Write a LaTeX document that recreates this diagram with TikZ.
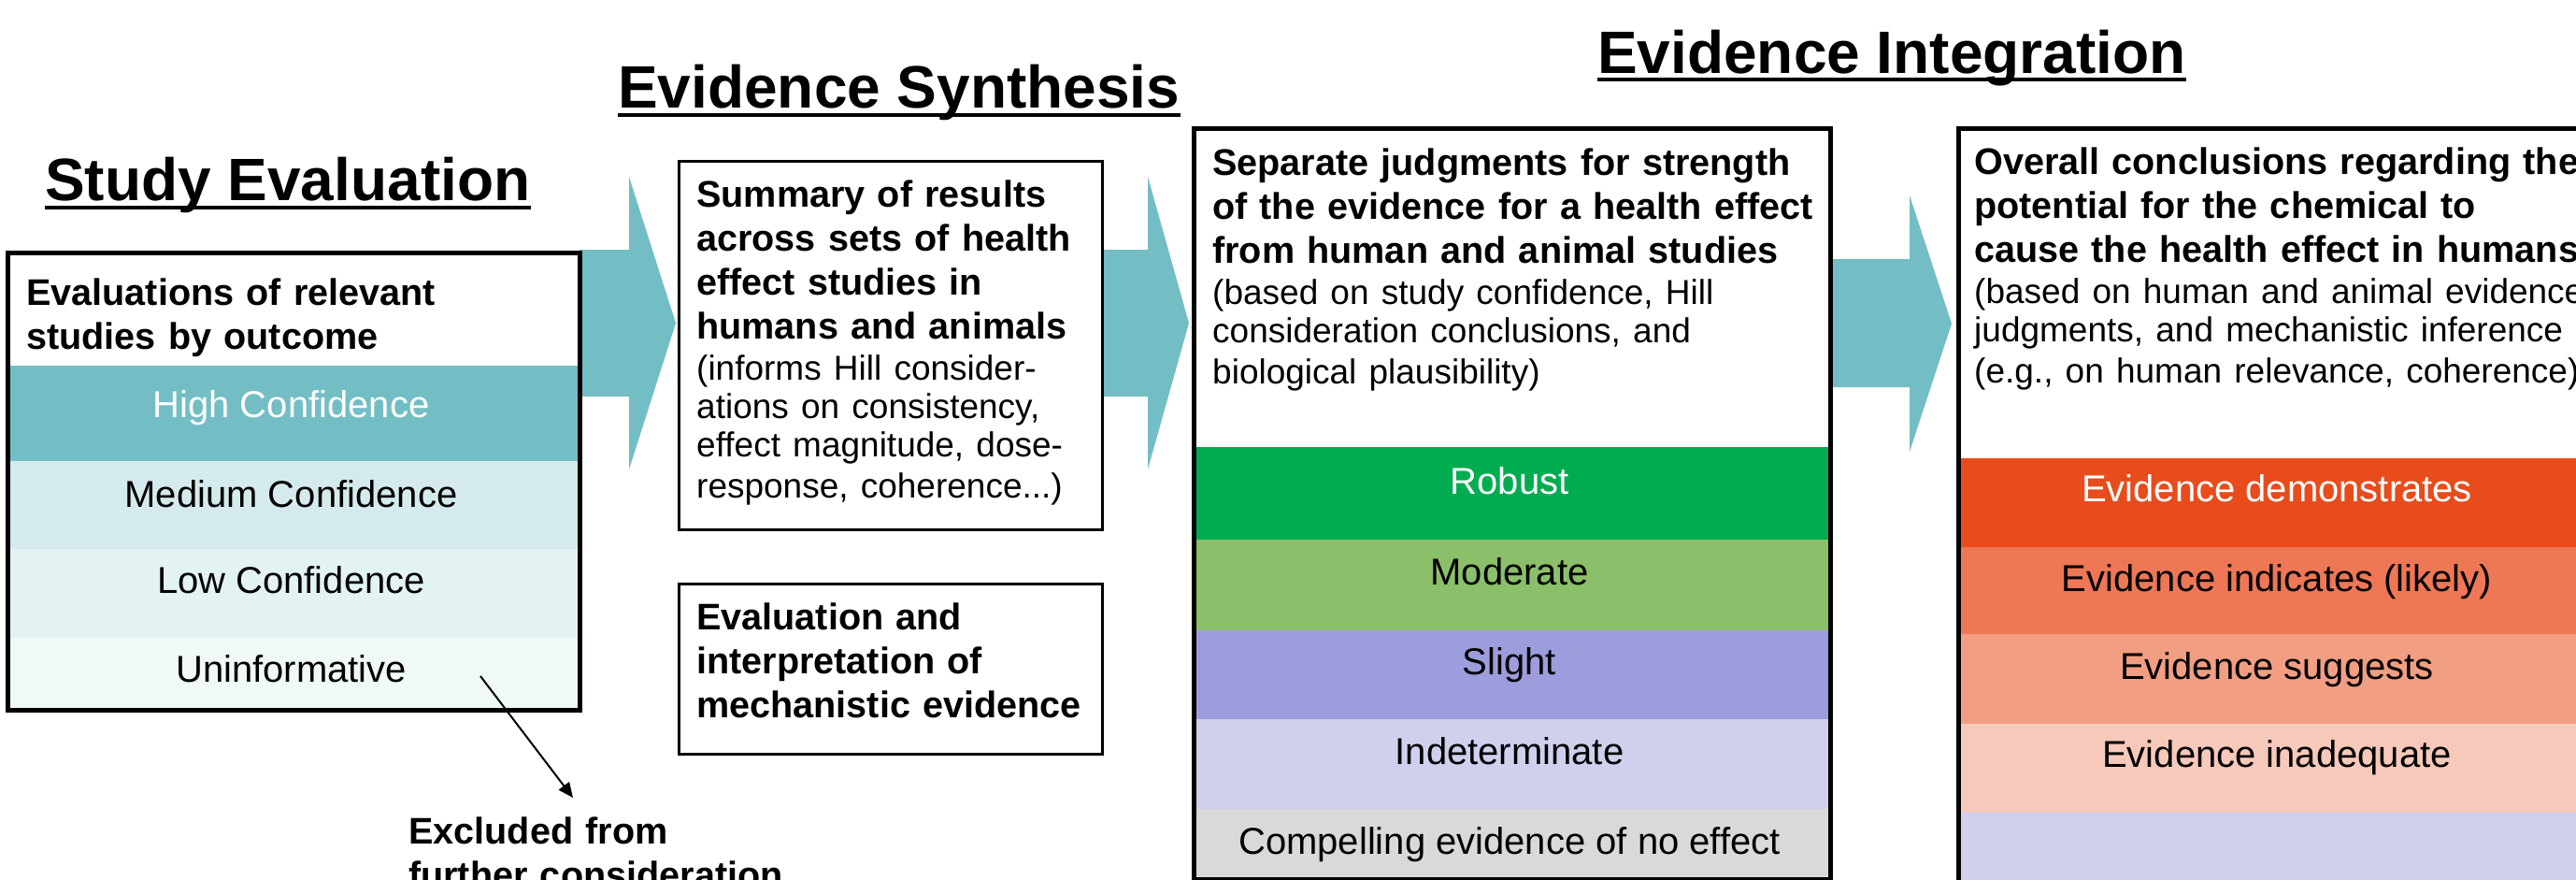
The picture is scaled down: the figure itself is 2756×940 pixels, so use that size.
\documentclass[tikz,border=0pt]{standalone}
\usepackage{fontspec}
\setmainfont{Liberation Sans}
\usetikzlibrary{arrows.meta}
\definecolor{tealA}{HTML}{73BEC4}
\definecolor{medC}{HTML}{D5EAEC}
\definecolor{lowC}{HTML}{E3F2F3}
\definecolor{uninC}{HTML}{F0F8F8}
\definecolor{robustC}{HTML}{00AC50}
\definecolor{moderateC}{HTML}{8CBF6A}
\definecolor{slightC}{HTML}{9D9CDC}
\definecolor{indetC}{HTML}{CFCFEE}
\definecolor{compelC}{HTML}{D9D9D9}
\definecolor{demoC}{HTML}{E84C1C}
\definecolor{indicC}{HTML}{EE7756}
\definecolor{suggC}{HTML}{F29E82}
\definecolor{inadeqC}{HTML}{F7C9BA}
\definecolor{lavC}{HTML}{D0D0EE}
\newcommand{\smtxt}{\fontsize{37}{44}\selectfont}
\tikzset{
  thickbox/.style={draw=black, line width=5pt, inner sep=0pt, anchor=north west},
  thinbox/.style={draw=black, line width=2.5pt, inner sep=0pt, anchor=north west},
  titletext/.style={font=\fontsize{64}{72}\selectfont\bfseries, anchor=base west, inner sep=0pt},
  hdtext/.style={font=\fontsize{39.6}{47}\selectfont, anchor=base west, inner sep=0pt, align=left, text width=#1},
  bandtext/.style={font=\fontsize{40}{47}\selectfont, anchor=base, inner sep=0pt},
  blockarrow/.style={fill=tealA},
  underl/.style={line width=4pt},
  exarrow/.style={line width=2pt, -{Triangle[length=16pt,width=14pt]}},
}
\begin{document}
\begin{tikzpicture}[x=1pt,y=-1pt]
\useasboundingbox (0,0) rectangle (2756,940);
\clip (0,0) rectangle (2756,940);
\fill[white] (0,0) rectangle (2756,940);

% ---------- titles ----------
\node[titletext] (tse) at (48,214) {Study Evaluation};
\draw[underl] ([yshift=-8pt]tse.base west) -- ([yshift=-8pt]tse.base east);
\node[titletext] (tsy) at (661,115) {Evidence Synthesis};
\draw[underl] ([yshift=-8pt]tsy.base west) -- ([yshift=-8pt]tsy.base east);
\node[titletext] (tin) at (1709,78) {Evidence Integration};
\draw[underl] ([yshift=-7pt]tin.base west) -- ([yshift=-7pt]tin.base east);

% ---------- block arrows ----------
\fill[blockarrow] (620,267) -- (673,267) -- (673,189) -- (723,345.5) -- (673,502) -- (673,424) -- (620,424) -- cycle;
\fill[blockarrow] (1178,267) -- (1228,267) -- (1228,189) -- (1272,345.5) -- (1228,502) -- (1228,424) -- (1178,424) -- cycle;
\fill[blockarrow] (1958,277) -- (2043,277) -- (2043,209) -- (2088,346) -- (2043,483) -- (2043,414) -- (1958,414) -- cycle;

% ---------- box 1 : study evaluation ----------
\fill[tealA] (6,391) rectangle (617.5,493);
\fill[medC] (6,493) rectangle (617.5,587);
\fill[lowC] (6,587) rectangle (617.5,682);
\fill[uninC] (6,682) rectangle (617.5,757);
\node[thickbox, minimum width=611.5pt, minimum height=489pt] (b1) at (6,268) {};
\node[hdtext=580pt] (b1h) at (28,326) {\textbf{Evaluations of relevant}\\\textbf{studies by outcome}};
\node[bandtext, text=white] (hc) at (311.5,446) {High Confidence};
\node[bandtext] (mc) at (311.5,542) {Medium Confidence};
\node[bandtext] (lc) at (311.5,634) {Low Confidence};
\node[bandtext] (un) at (311.5,729) {Uninformative};

% exclusion
\node[hdtext=450pt] (excl) at (437,902) {\textbf{Excluded from}\\\textbf{further consideration}};
\coordinate (exA) at (514,723);
\coordinate (exB) at (613,853);
\draw[exarrow] (exA) -- (exB);

% ---------- box 2 / 3 : synthesis ----------
\node[thinbox, minimum width=453pt, minimum height=394pt] (b2) at (725,171) {};
\node[hdtext=430pt] (b2h) at (745,221) {\textbf{Summary of results}\\\textbf{across sets of health}\\\textbf{effect studies in}\\\textbf{humans and animals}\\{\smtxt (informs Hill consider-\\[-3pt]ations on consistency,\\[-3pt]effect magnitude, dose-\\[-3pt]response, coherence...)}};
\node[thinbox, minimum width=453pt, minimum height=182pt] (b3) at (725,623) {};
\node[hdtext=430pt] (b3h) at (745,673) {\textbf{Evaluation and}\\\textbf{interpretation of}\\\textbf{mechanistic evidence}};

% ---------- box 4 : strength judgments ----------
\fill[robustC] (1274.5,478) rectangle (1955.5,577);
\fill[moderateC] (1274.5,577) rectangle (1955.5,674);
\fill[slightC] (1274.5,674) rectangle (1955.5,769);
\fill[indetC] (1274.5,769) rectangle (1955.5,865);
\fill[compelC] (1274.5,865) rectangle (1955.5,938);
\node[thickbox, minimum width=681pt, minimum height=803pt] (b4) at (1274.5,135) {};
\node[hdtext=670pt] (b4h) at (1297,187) {\textbf{Separate judgments for strength}\\\textbf{of the evidence for a health effect}\\\textbf{from human and animal studies}\\{\smtxt (based on study confidence, Hill\\[-3pt]consideration conclusions, and\\[-3pt]biological plausibility)}};
\node[bandtext, text=white] (rob) at (1615,528) {Robust};
\node[bandtext] (mod) at (1615,625) {Moderate};
\node[bandtext] (sli) at (1615,721) {Slight};
\node[bandtext] (ind) at (1615,817) {Indeterminate};
\node[bandtext] (com) at (1615,913) {Compelling evidence of no effect};

% ---------- box 5 : overall conclusions ----------
\fill[demoC] (2092.5,490) rectangle (2780,585);
\fill[indicC] (2092.5,585) rectangle (2780,678);
\fill[suggC] (2092.5,678) rectangle (2780,774);
\fill[inadeqC] (2092.5,774) rectangle (2780,869);
\fill[lavC] (2092.5,869) rectangle (2780,1000);
\node[thickbox, minimum width=687pt, minimum height=866pt] (b5) at (2092.5,134.5) {};
\node[hdtext=800pt] (b5h) at (2112,186) {\textbf{Overall conclusions regarding the}\\\textbf{potential for the chemical to}\\\textbf{cause the health effect in humans}\\{\smtxt (based on human and animal evidence\\[-3pt]judgments, and mechanistic inference\\[-3pt](e.g., on human relevance, coherence)}};
\node[bandtext, text=white] (dem) at (2436,536) {Evidence demonstrates};
\node[bandtext] (inc) at (2436,632) {Evidence indicates (likely)};
\node[bandtext] (sug) at (2436,726) {Evidence suggests};
\node[bandtext] (ina) at (2436,820) {Evidence inadequate};
\end{tikzpicture}
\end{document}
